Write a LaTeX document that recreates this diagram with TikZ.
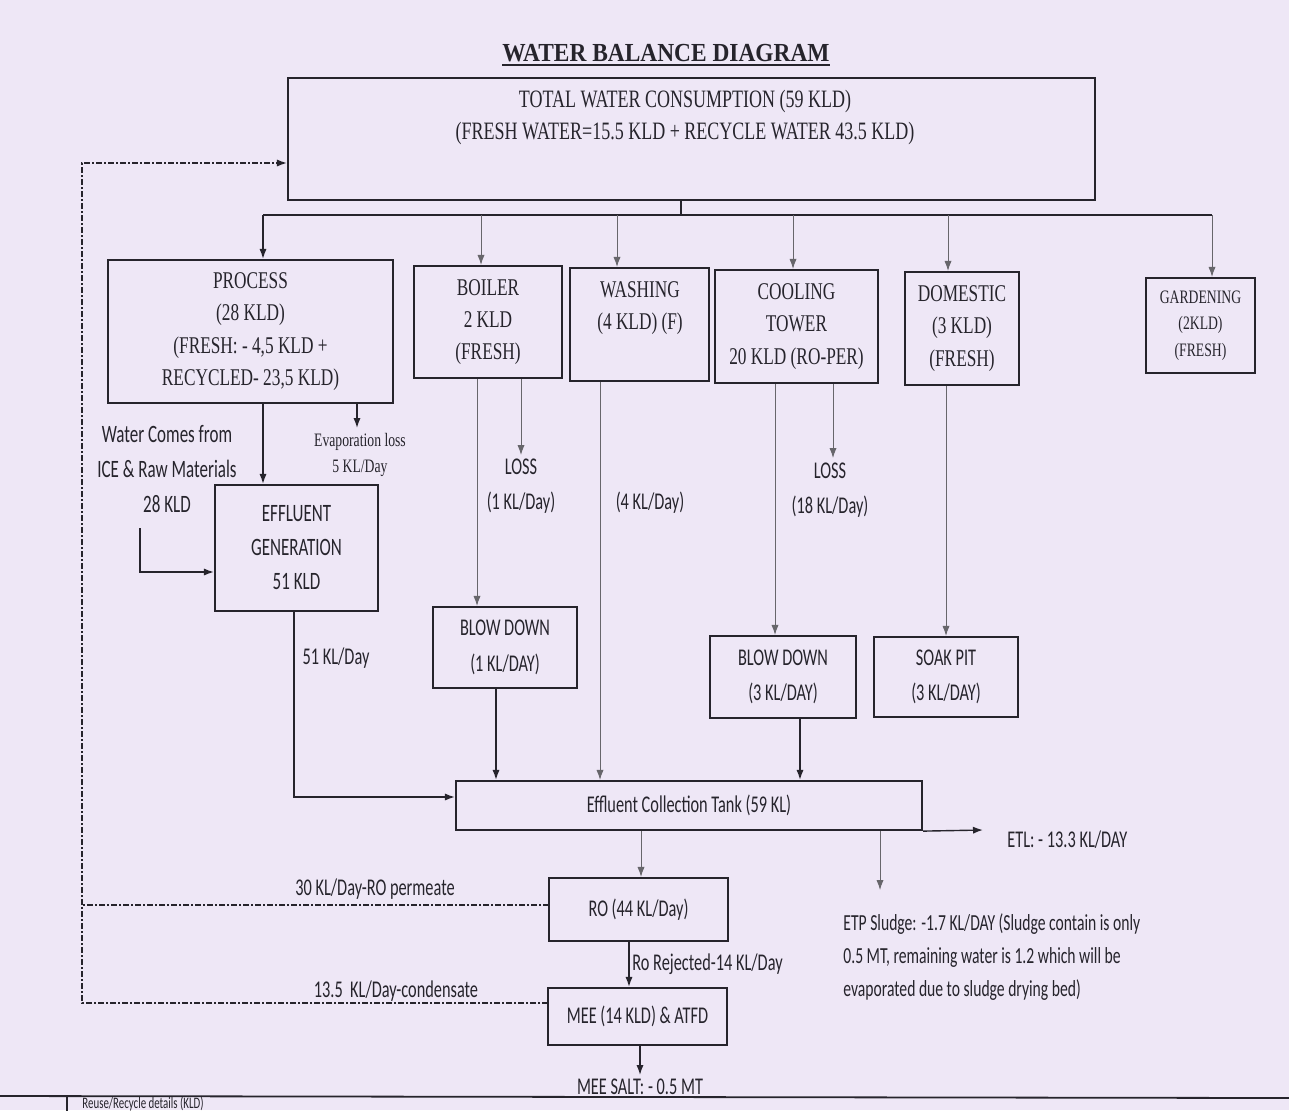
\documentclass[tikz,border=0pt]{standalone}
\usepackage{fontspec}
\usetikzlibrary{arrows.meta}
\newfontfamily\sr[FakeStretch=0.72]{Liberation Serif}
\newfontfamily\srt[FakeStretch=0.9]{Liberation Serif}
\newfontfamily\cb[FakeStretch=0.68]{Carlito}
\definecolor{paper}{RGB}{238,231,246}
\definecolor{ink}{RGB}{38,36,44}
\begin{document}
\begin{tikzpicture}[x=0.5pt,y=-0.5pt,
  box/.style={draw=ink, line width=1.1pt, inner sep=0pt, align=center, text=ink},
  stxt/.style={text=ink, align=center, inner sep=0pt, font=\sr\fontsize{12}{16.2}\selectfont},
  ctxt/.style={text=ink, align=center, inner sep=0pt, font=\cb\fontsize{12}{17.3}\selectfont},
  arr/.style={draw=ink, line width=0.7pt, -{Latex[length=5pt,width=3.6pt]}},
  farr/.style={draw=ink!70, line width=0.45pt, -{Latex[length=5pt,width=3.6pt]}},
  recyc/.style={draw=ink, line width=0.7pt, dash pattern=on 3pt off 1pt on 1pt off 1pt}]
\useasboundingbox (0,0) rectangle (1289,1110);
\fill[paper] (0,0) rectangle (1289,1110);

% title
\node[text=ink, font=\srt\bfseries\fontsize{13}{13}\selectfont, inner sep=0pt] (title) at (666,53) {WATER BALANCE DIAGRAM};
\draw[ink, line width=0.9pt] ([yshift=-1.5pt]title.south west) -- ([yshift=-1.5pt]title.south east);

% boxes
\node[box, minimum width=403.5pt, minimum height=61pt] (total) at (691.5,139) {};
\node[stxt, font=\sr\fontsize{12.5}{16}\selectfont] (totaltxt) at (685,117) {TOTAL WATER CONSUMPTION (59 KLD)\\(FRESH WATER=15.5 KLD + RECYCLE WATER 43.5 KLD)};

\node[box, minimum width=142.5pt, minimum height=71.5pt, font=\sr\fontsize{12}{16.2}\selectfont] (process) at (250.5,331.5) {PROCESS\\(28 KLD)\\(FRESH: - 4,5 KLD +\\RECYCLED- 23,5 KLD)};
\node[box, minimum width=74pt, minimum height=56pt, font=\sr\fontsize{12}{16.2}\selectfont] (boiler) at (488,322) {BOILER\\2 KLD\\(FRESH)};
\node[box, minimum width=69.5pt, minimum height=56.5pt] (washing) at (639.5,324.5) {};
\node[stxt] (washtxt) at (640,308) {WASHING\\(4 KLD) (F)};
\node[box, minimum width=81.5pt, minimum height=56.5pt, font=\sr\fontsize{12}{16.2}\selectfont] (cooling) at (796.5,326.5) {COOLING\\TOWER\\20 KLD (RO-PER)};
\node[box, minimum width=57pt, minimum height=56.5pt, font=\sr\fontsize{12}{16.2}\selectfont] (domestic) at (962,328.5) {DOMESTIC\\(3 KLD)\\(FRESH)};
\node[box, minimum width=54.5pt, minimum height=47.5pt, font=\sr\fontsize{9.5}{13.3}\selectfont] (garden) at (1200.5,325.5) {GARDENING\\(2KLD)\\(FRESH)};

\node[box, minimum width=81.5pt, minimum height=63pt, font=\cb\fontsize{12.5}{17}\selectfont] (effgen) at (296.5,548) {EFFLUENT\\GENERATION\\51 KLD};
\node[box, minimum width=72pt, minimum height=40.5pt, font=\cb\fontsize{12}{18}\selectfont] (blow1) at (505,647.5) {BLOW DOWN\\(1 KL/DAY)};
\node[box, minimum width=73pt, minimum height=41pt, font=\cb\fontsize{12}{17.5}\selectfont] (blow2) at (783,677) {BLOW DOWN\\(3 KL/DAY)};
\node[box, minimum width=72pt, minimum height=40pt, font=\cb\fontsize{12}{17.5}\selectfont] (soak) at (946,677) {SOAK PIT\\(3 KL/DAY)};
\node[box, minimum width=233pt, minimum height=24.5pt, font=\cb\fontsize{12}{14}\selectfont] (tank) at (689,805.5) {Effluent Collection Tank (59 KL)};
\node[box, minimum width=89.5pt, minimum height=31.5pt, font=\cb\fontsize{12}{14}\selectfont] (ro) at (638.5,909.5) {RO (44 KL/Day)};
\node[box, minimum width=89.5pt, minimum height=28.5pt, font=\cb\fontsize{12}{14}\selectfont] (mee) at (637.5,1016.5) {MEE (14 KLD) \& ATFD};

% bus from total
\coordinate (bj) at (681,215);
\coordinate (d1) at (263,215);
\coordinate (d2) at (481,215);
\coordinate (d3) at (617,215);
\coordinate (d4) at (793,215);
\coordinate (d5) at (948,215);
\coordinate (d6) at (1212,215);
\draw[ink, line width=0.8pt] (total.south -| bj) -- (bj);
\draw[ink, line width=0.8pt] (d1) -- (d6);
\draw[arr] (d1) -- (d1 |- process.north);
\draw[farr] (d2) -- (d2 |- boiler.north);
\draw[farr] (d3) -- (d3 |- washing.north);
\draw[farr] (d4) -- (d4 |- cooling.north);
\draw[farr] (d5) -- (d5 |- domestic.north);
\draw[farr] (d6) -- (d6 |- garden.north);

% process outflows
\draw[arr] (process.south -| d1) -- (effgen.north -| d1);
\coordinate (ev) at (357,428);
\draw[arr] (process.south -| ev) -- (ev);
\node[stxt, font=\sr\fontsize{9.5}{13}\selectfont] (evtxt) at (360,455) {Evaporation loss\\5 KL/Day};

% water from ICE
\node[ctxt, font=\cb\fontsize{12.5}{17.3}\selectfont] (icetxt) at (167,469) {Water Comes from\\ICE \& Raw Materials\\28 KLD};
\coordinate (wc) at (140,528);
\coordinate (wc2) at (140,572);
\draw[arr] (wc) -- (wc2) -- (wc2 -| effgen.west);

% effluent generation to tank
\coordinate (eg) at (294,797);
\draw[arr] (effgen.south -| eg) -- (eg) -- (eg -| tank.west);
\node[ctxt] (eglbl) at (336,658) {51 KL/Day};

% boiler
\coordinate (bx) at (477,600);
\draw[farr] (boiler.south -| bx) -- (blow1.north -| bx);
\coordinate (bl) at (521,455);
\draw[farr] (boiler.south -| bl) -- (bl);
\node[ctxt] (bltxt) at (521,486) {LOSS\\(1 KL/Day)};
\coordinate (b1x) at (496,700);
\draw[arr] (blow1.south -| b1x) -- (tank.north -| b1x);

% washing
\coordinate (wx) at (600,700);
\draw[farr] (washing.south -| wx) -- (tank.north -| wx);
\node[ctxt] (wtxt) at (650,503) {(4 KL/Day)};

% cooling
\coordinate (cx) at (775,600);
\draw[farr] (cooling.south -| cx) -- (blow2.north -| cx);
\coordinate (cl) at (833,458);
\draw[farr] (cooling.south -| cl) -- (cl);
\node[ctxt] (cltxt) at (830,490) {LOSS\\(18 KL/Day)};
\coordinate (b2x) at (800,750);
\draw[arr] (blow2.south -| b2x) -- (tank.north -| b2x);

% domestic
\coordinate (dx) at (946,600);
\draw[farr] (domestic.south -| dx) -- (soak.north -| dx);

% tank outflows
\coordinate (etl) at (983,830);
\draw[arr] (tank.south east) -- (etl);
\node[ctxt, anchor=west] (etltxt) at (1007,840) {ETL: - 13.3 KL/DAY};
\coordinate (sl) at (880,890);
\draw[farr] (tank.south -| sl) -- (sl);
\node[ctxt, font=\cb\fontsize{11.5}{16.5}\selectfont, align=left, anchor=north west] (sltxt) at (843,913) {ETP Sludge: -1.7 KL/DAY (Sludge contain is only\\0.5 MT, remaining water is 1.2 which will be\\evaporated due to sludge drying bed)};
\coordinate (tx) at (641,850);
\draw[farr] (tank.south -| tx) -- (ro.north -| tx);
\coordinate (rx) at (629,960);
\draw[arr] (ro.south -| rx) -- (mee.north -| rx);
\node[ctxt, anchor=west] (rrtxt) at (632,964) {Ro Rejected-14 KL/Day};
\coordinate (ms) at (640,1075);
\draw[arr] (mee.south -| ms) -- (ms);
\node[ctxt] (mstxt) at (640,1087) {MEE SALT: - 0.5 MT};

% recycle lines
\coordinate (rtop) at (82,163);
\coordinate (rop) at (549,905);
\coordinate (mr) at (548,1003);
\draw[recyc] (rop) -- (rop -| rtop);
\draw[recyc, -{Latex[length=5pt,width=3.6pt]}] (mr) -- (mr -| rtop) -- (rtop) -- (rtop -| total.west);
\node[ctxt] (rotxt) at (375,889) {30 KL/Day-RO permeate};
\node[ctxt] (mctxt) at (396,991) {13.5\ \ KL/Day-condensate};

% bottom fragment
\coordinate (fl) at (0,1096);
\coordinate (fr) at (1289,1098);
\draw[ink, line width=0.9pt] (fl) -- (fr);
\coordinate (fv) at (67,1096);
\draw[ink, line width=0.8pt] (fv) -- ++(0,20);
\node[ctxt, font=\cb\fontsize{8}{9}\selectfont, anchor=west] (foot) at (82,1103.5) {Reuse/Recycle details (KLD)};
\end{tikzpicture}
\end{document}
